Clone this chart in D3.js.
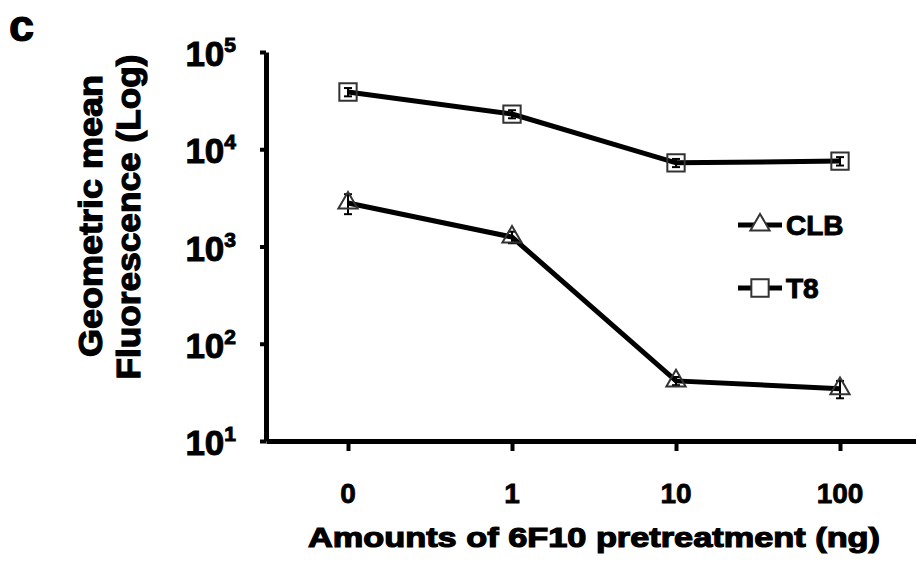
<!DOCTYPE html>
<html lang="en">
  <head>
    <meta charset="utf-8">
    <title>6F10 pretreatment</title>
    <style>
      body { margin: 0; background: white; }
      svg { display: block; }
      text { font-family: "Liberation Sans", Arial, sans-serif; font-weight: bold; fill: black; }
    </style>
    <script src="https://d3js.org/d3.v7.min.js"></script>
  </head>
  <body>
    <div class="chart"></div>
    <script>
    const doses = ["0", "1", "10", "100"]
    const t8 = [38800, 23000, 7250, 7550]
    const t8Err = [3800, 2200, 700, 750]
    const clb = [2800, 1250, 41.5, 34.5]
    const clbErr = [650, 170, 4, 7]
    const yTicks = [10, 100, 1000, 10000, 100000]

    const width = 916, height = 561

    const svg = d3.select(".chart")
      .append("svg")
      .attr("width", width)
      .attr("height", height)

    const x = d3.scalePoint()
      .domain(doses)
      .range([266, 922])
      .padding(0.5)

    const y = d3.scaleLog()
      .domain([10, 100000])
      .range([441, 52])

    // axes
    svg.append("g")
      .attr("transform", "translate(266,0)")
      .call(d3.axisLeft(y).tickValues(yTicks).tickSize(6).tickSizeOuter(0).tickFormat(""))
      .call(g => g.select(".domain").attr("stroke-width", 5))
      .call(g => g.selectAll(".tick line").attr("stroke-width", 4))

    svg.append("g")
      .attr("transform", "translate(0,441)")
      .call(d3.axisBottom(x).tickSize(10).tickSizeOuter(0).tickFormat(""))
      .call(g => g.select(".domain").attr("stroke-width", 5))
      .call(g => g.selectAll(".tick line").attr("stroke-width", 4))

    // y tick labels with superscripts
    const yl = svg.append("g")
      .selectAll("text")
      .data(yTicks)
      .join("text")
      .attr("x", 236)
      .attr("y", d => y(d) + 14)
      .attr("text-anchor", "end")
      .style("font-size", "35px")
      .style("stroke", "black")
      .style("stroke-width", 1)
    yl.append("tspan").text("10")
    yl.append("tspan")
      .attr("dy", -14)
      .style("font-size", "21px")
      .text(d => Math.round(Math.log10(d)))

    // x tick labels
    svg.append("g")
      .selectAll("text")
      .data(doses)
      .join("text")
      .attr("x", d => x(d))
      .attr("y", 503)
      .attr("text-anchor", "middle")
      .style("font-size", "28px")
      .style("stroke", "black")
      .style("stroke-width", 0.8)
      .text(d => d)

    // axis titles
    svg.append("text")
      .attr("x", 308)
      .attr("y", 547)
      .attr("textLength", 572)
      .attr("lengthAdjust", "spacingAndGlyphs")
      .style("font-size", "28px")
      .style("stroke", "black")
      .style("stroke-width", 1.2)
      .text("Amounts of 6F10 pretreatment (ng)")

    svg.append("text")
      .attr("transform", "translate(102,216) rotate(-90)")
      .attr("text-anchor", "middle")
      .attr("textLength", 282)
      .attr("lengthAdjust", "spacingAndGlyphs")
      .style("font-size", "33px")
      .style("stroke", "black")
      .style("stroke-width", 1.2)
      .text("Geometric mean")

    svg.append("text")
      .attr("transform", "translate(140,217) rotate(-90)")
      .attr("text-anchor", "middle")
      .attr("textLength", 325)
      .attr("lengthAdjust", "spacingAndGlyphs")
      .style("font-size", "33px")
      .style("stroke", "black")
      .style("stroke-width", 1.2)
      .text("Fluorescence (Log)")

    svg.append("text")
      .attr("x", 9)
      .attr("y", 41)
      .style("font-size", "45px")
      .style("stroke", "black")
      .style("stroke-width", 1.2)
      .text("c")

    const line = d3.line()
      .x((d, i) => x(doses[i]))
      .y(d => y(d))

    const series = [
      { name: "T8", values: t8, err: t8Err, symbol: d3.symbolSquare, size: 300, legendY: 288 },
      { name: "CLB", values: clb, err: clbErr, symbol: d3.symbolTriangle, size: 160, legendY: 225 }
    ]

    series.forEach(s => {
      svg.append("path")
        .datum(s.values)
        .attr("fill", "none")
        .attr("stroke", "black")
        .attr("stroke-width", 5)
        .attr("d", line)

      const eb = svg.append("g")
        .attr("stroke", "black")
        .attr("stroke-width", 2)
        .selectAll("g")
        .data(s.values)
        .join("g")
      eb.append("line")
        .attr("x1", (d, i) => x(doses[i]))
        .attr("x2", (d, i) => x(doses[i]))
        .attr("y1", (d, i) => y(d + s.err[i]))
        .attr("y2", (d, i) => y(Math.max(d - s.err[i], 10)))
      eb.append("line")
        .attr("x1", (d, i) => x(doses[i]) - 4)
        .attr("x2", (d, i) => x(doses[i]) + 4)
        .attr("y1", (d, i) => y(d + s.err[i]))
        .attr("y2", (d, i) => y(d + s.err[i]))
      eb.append("line")
        .attr("x1", (d, i) => x(doses[i]) - 4)
        .attr("x2", (d, i) => x(doses[i]) + 4)
        .attr("y1", (d, i) => y(d - s.err[i]))
        .attr("y2", (d, i) => y(d - s.err[i]))

      svg.append("g")
        .selectAll("path")
        .data(s.values)
        .join("path")
        .attr("transform", (d, i) => `translate(${x(doses[i])},${y(d)})`)
        .attr("d", d3.symbol(s.symbol, s.size))
        .attr("fill", "none")
        .attr("stroke", "#333")
        .attr("stroke-width", 2)

      // legend
      const lg = svg.append("g").attr("transform", `translate(0,${s.legendY})`)
      lg.append("line")
        .attr("x1", 738).attr("x2", 782)
        .attr("stroke", "black").attr("stroke-width", 5)
      lg.append("path")
        .attr("transform", "translate(760,0)")
        .attr("d", d3.symbol(s.symbol, s.size))
        .attr("fill", "white")
        .attr("stroke", "#333")
        .attr("stroke-width", 2)
      lg.append("text")
        .attr("x", 786)
        .attr("y", 10)
        .style("font-size", "28px")
        .style("stroke", "black")
        .style("stroke-width", 1)
        .text(s.name)
    })
    </script>
  </body>
</html>
